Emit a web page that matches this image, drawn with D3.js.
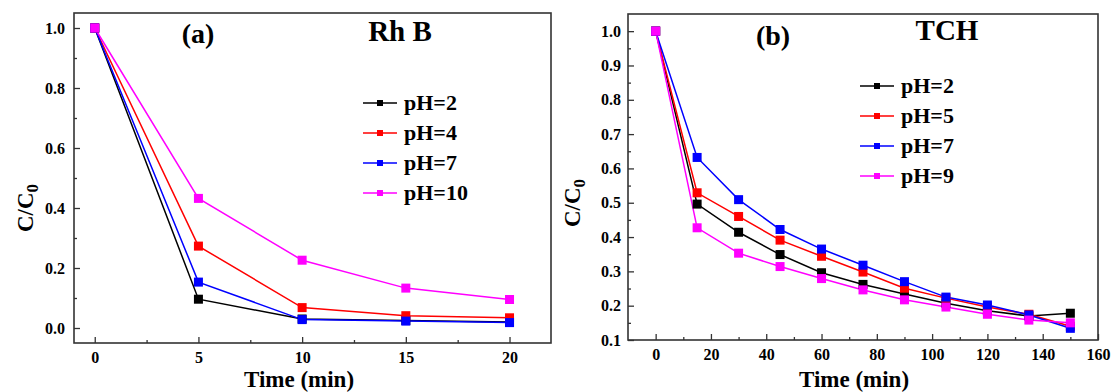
<!DOCTYPE html>
<html>
<head>
<meta charset="utf-8">
<script src="https://cdn.jsdelivr.net/npm/d3@7"></script>
<style>
  body { margin: 0; background: #fff; }
</style>
</head>
<body>
<script>
// panel (a) Rh B
const timeA = [0, 5, 10, 15, 20];
const labelsA = ['pH=2', 'pH=4', 'pH=7', 'pH=10'];
const rhb_pH2 = [1.0, 0.096, 0.030, 0.025, 0.020];
const rhb_pH4 = [1.0, 0.273, 0.068, 0.041, 0.034];
const rhb_pH7 = [1.0, 0.153, 0.028, 0.023, 0.018];
const rhb_pH10 = [1.0, 0.432, 0.226, 0.133, 0.095];
const xTicksA = [0, 5, 10, 15, 20];
const yTicksA = [0.0, 0.2, 0.4, 0.6, 0.8, 1.0];

// panel (b) TCH
const timeB = [0, 15, 30, 45, 60, 75, 90, 105, 120, 135, 150];
const labelsB = ['pH=2', 'pH=5', 'pH=7', 'pH=9'];
const tch_pH2 = [1.0, 0.496, 0.414, 0.349, 0.296, 0.262, 0.234, 0.207, 0.185, 0.170, 0.178];
const tch_pH5 = [1.0, 0.529, 0.460, 0.391, 0.344, 0.298, 0.251, 0.222, 0.196, 0.175, 0.140];
const tch_pH7 = [1.0, 0.632, 0.509, 0.422, 0.365, 0.318, 0.270, 0.225, 0.202, 0.173, 0.134];
const tch_pH9 = [1.0, 0.427, 0.353, 0.314, 0.279, 0.246, 0.217, 0.196, 0.175, 0.158, 0.150];
const xTicksB = [0, 20, 40, 60, 80, 100, 120, 140, 160];
const yTicksB = [0.1, 0.2, 0.3, 0.4, 0.5, 0.6, 0.7, 0.8, 0.9, 1.0];

const colors = ['#000000', '#ff0000', '#0000ff', '#ff00ff'];

const svg = d3.select('body').append('svg').attr('width', 1115).attr('height', 392);

function panel(cfg) {
  const x = d3.scaleLinear().domain(cfg.xDomain).range(cfg.xRange);
  const y = d3.scaleLinear().domain(cfg.yDomain).range(cfg.yRange);
  const g = svg.append('g');

  // frame
  g.append('rect')
    .attr('x', cfg.xRange[0]).attr('y', cfg.yRange[1])
    .attr('width', cfg.xRange[1] - cfg.xRange[0])
    .attr('height', cfg.yRange[0] - cfg.yRange[1])
    .attr('fill', 'none').attr('stroke', '#333').attr('stroke-width', 1.6);

  // axes, ticks pointing inward
  g.append('g').attr('transform', `translate(0,${cfg.yRange[0]})`)
    .call(d3.axisBottom(x).tickValues(cfg.xTicks).tickSize(-6).tickPadding(9).tickFormat(d3.format('d')));
  g.append('g').attr('transform', `translate(0,${cfg.yRange[0]})`)
    .call(d3.axisBottom(x).tickValues(cfg.xMinor).tickSize(-3).tickFormat(''));
  g.append('g').attr('transform', `translate(${cfg.xRange[0]},0)`)
    .call(d3.axisLeft(y).tickValues(cfg.yTicks).tickSize(-6).tickPadding(cfg.yPad).tickFormat(d3.format('.1f')));
  g.append('g').attr('transform', `translate(${cfg.xRange[0]},0)`)
    .call(d3.axisLeft(y).tickValues(cfg.yMinor).tickSize(-3).tickFormat(''));
  g.selectAll('.domain').remove();
  g.selectAll('.tick line').attr('stroke', '#333').attr('stroke-width', 1.3);
  g.selectAll('.tick text').style('font-size', '16px').attr('fill', '#000');

  // series
  const line = d3.line().x(d => x(d[0])).y(d => y(d[1]));
  cfg.series.forEach((vals, i) => {
    const pts = cfg.time.map((t, j) => [t, vals[j]]);
    g.append('path').datum(pts).attr('d', line)
      .attr('fill', 'none').attr('stroke', colors[i]).attr('stroke-width', 1.5);
  });
  cfg.series.forEach((vals, i) => {
    const pts = cfg.time.map((t, j) => [t, vals[j]]);
    g.selectAll(null).data(pts).enter().append('rect')
      .attr('x', d => x(d[0]) - 4.5).attr('y', d => y(d[1]) - 4.5)
      .attr('width', 9).attr('height', 9).attr('fill', colors[i]);
  });

  // legend
  cfg.labels.forEach((lab, i) => {
    const ly = cfg.legY + i * 30;
    const lg = g.append('g');
    lg.append('line').attr('x1', cfg.legX).attr('x2', cfg.legX + 34)
      .attr('y1', ly).attr('y2', ly).attr('stroke', colors[i]).attr('stroke-width', 1.5);
    lg.append('rect').attr('x', cfg.legX + 17 - 3).attr('y', ly - 3)
      .attr('width', 6).attr('height', 6).attr('fill', colors[i]);
    lg.append('text').attr('x', cfg.legX + 41).attr('y', ly + 7)
      .style('font-size', '22px').text(lab);
  });

  // titles
  g.append('text').attr('x', cfg.tag[0]).attr('y', cfg.tag[1]).attr('text-anchor', 'middle')
    .style('font-size', '28px').text(cfg.tag[2]);
  g.append('text').attr('x', cfg.name[0]).attr('y', cfg.name[1]).attr('text-anchor', 'middle')
    .style('font-size', '29px').text(cfg.name[2]);

  // axis titles
  g.append('text').attr('x', cfg.xLab[0]).attr('y', cfg.xLab[1]).attr('text-anchor', 'middle')
    .style('font-size', '23px').text('Time (min)');
  const yl = g.append('text').attr('text-anchor', 'middle')
    .attr('transform', `translate(${cfg.yLab[0]},${cfg.yLab[1]}) rotate(-90)`)
    .style('font-size', '23px');
  yl.append('tspan').text('C/C');
  yl.append('tspan').attr('dy', 5).style('font-size', '17px').text('0');
}

panel({
  xDomain: [-1, 22], xRange: [74, 551],
  yDomain: [-0.05, 1.05], yRange: [343, 13],
  xTicks: xTicksA, xMinor: [2.5, 7.5, 12.5, 17.5],
  yTicks: yTicksA, yMinor: [0.1, 0.3, 0.5, 0.7, 0.9], yPad: 9,
  time: timeA, series: [rhb_pH2, rhb_pH4, rhb_pH7, rhb_pH10], labels: labelsA,
  legX: 363, legY: 103,
  tag: [198, 43, '(a)'], name: [400, 41, 'Rh B'],
  xLab: [299, 387], yLab: [33, 208]
});

panel({
  xDomain: [-10, 160], xRange: [628, 1098],
  yDomain: [0.1, 1.05], yRange: [340, 14],
  xTicks: xTicksB, xMinor: [10, 30, 50, 70, 90, 110, 130, 150],
  yTicks: yTicksB, yMinor: [0.15, 0.25, 0.35, 0.45, 0.55, 0.65, 0.75, 0.85, 0.95], yPad: 7,
  time: timeB, series: [tch_pH2, tch_pH5, tch_pH7, tch_pH9], labels: labelsB,
  legX: 860, legY: 86,
  tag: [773, 45, '(b)'], name: [947, 40, 'TCH'],
  xLab: [854, 387], yLab: [580, 203]
});

// Times-like bold everywhere
svg.selectAll('text')
  .style('font-family', '"Liberation Serif"')
  .style('font-weight', 'bold')
  .attr('fill', '#000');
</script>
</body>
</html>
